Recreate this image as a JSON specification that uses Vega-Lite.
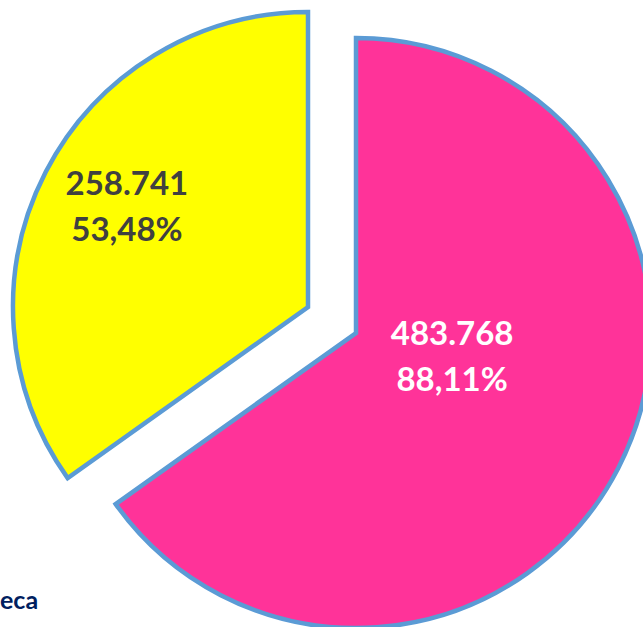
{
  "$schema": "https://vega.github.io/schema/vega-lite/v6.json",
  "width": 643,
  "height": 627,
  "autosize": {"type": "none"},
  "padding": 0,
  "background": "#ffffff",
  "config": {"view": {"stroke": null}},
  "title": {
    "text": "eca",
    "orient": "bottom",
    "anchor": "start",
    "frame": "group",
    "baseline": "alphabetic",
    "offset": -28,
    "font": "Lato",
    "fontWeight": "bold",
    "fontSize": 25,
    "color": "#002060"
  },
  "data": {
    "values": [
      {"cat": "Serie 1", "value": 483.768, "label": "483.768\n88,11%"},
      {"cat": "Serie 2", "value": 258.741, "label": "258.741\n53,48%"}
    ]
  },
  "encoding": {
    "theta": {"field": "value", "type": "quantitative", "stack": true},
    "order": {"field": "cat", "type": "nominal"}
  },
  "layer": [
    {
      "mark": {"type": "arc", "outerRadius": 295, "xOffset": 34.5, "yOffset": 19.5, "stroke": "#5B9BD5", "strokeWidth": 4.5, "strokeJoin": "miter"},
      "encoding": {
        "color": {"field": "cat", "type": "nominal", "scale": {"domain": ["Serie 1", "Serie 2"], "range": ["#FF3399", "#FFFF00"]}, "legend": null},
        "opacity": {"condition": {"test": "datum.cat === 'Serie 1'", "value": 1}, "value": 0}
      }
    },
    {
      "mark": {"type": "arc", "outerRadius": 295, "xOffset": -13.5, "yOffset": -6.5, "stroke": "#5B9BD5", "strokeWidth": 4.5, "strokeJoin": "miter"},
      "encoding": {
        "color": {"field": "cat", "type": "nominal", "scale": {"domain": ["Serie 1", "Serie 2"], "range": ["#FF3399", "#FFFF00"]}, "legend": null},
        "opacity": {"condition": {"test": "datum.cat === 'Serie 2'", "value": 1}, "value": 0}
      }
    },
    {
      "mark": {"type": "text", "radius": 100, "xOffset": 41.7, "yOffset": -24.4, "font": "Lato", "fontWeight": "bold", "fontSize": 33, "lineBreak": "\n", "lineHeight": 46, "align": "center", "baseline": "middle", "color": "#ffffff"},
      "encoding": {
        "text": {"field": "label", "type": "nominal"},
        "opacity": {"condition": {"test": "datum.cat === 'Serie 1'", "value": 1}, "value": 0}
      }
    },
    {
      "mark": {"type": "text", "radius": 207, "xOffset": -10.6, "yOffset": -34, "font": "Lato", "fontWeight": "bold", "fontSize": 33, "lineBreak": "\n", "lineHeight": 46, "align": "center", "baseline": "middle", "color": "#404040"},
      "encoding": {
        "text": {"field": "label", "type": "nominal"},
        "opacity": {"condition": {"test": "datum.cat === 'Serie 2'", "value": 1}, "value": 0}
      }
    }
  ]
}
